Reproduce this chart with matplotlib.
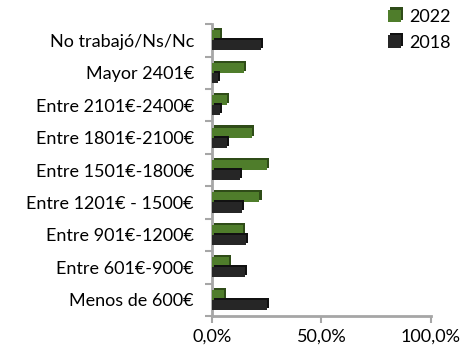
import matplotlib
matplotlib.use('Agg')
import matplotlib.pyplot as plt
import matplotlib.patheffects as pe
import numpy as np

categories = ['Menos de 600€', 'Entre 601€-900€', 'Entre 901€-1200€',
              'Entre 1201€ - 1500€', 'Entre 1501€-1800€', 'Entre 1801€-2100€',
              'Entre 2101€-2400€', 'Mayor 2401€', 'No trabajó/Ns/Nc']
values_2022 = [5.5, 7.8, 14.0, 21.7, 25.0, 18.3, 6.8, 14.7, 3.7]
values_2018 = [25.2, 14.9, 15.5, 13.5, 12.9, 6.8, 3.5, 2.8, 22.4]
x_ticks = [0, 50, 100]
x_tick_labels = ['0,0%', '50,0%', '100,0%']

plt.rcParams['font.family'] = ['Lato', 'DejaVu Sans']

fig = plt.figure(figsize=(4.71, 3.55), dpi=100)
ax = fig.add_axes([0.450, 0.110, 0.465, 0.822])

y = np.arange(len(categories))
h = 0.31
green = '#4f7d2b'
dark = '#262626'

b1 = ax.barh(y + h / 2, values_2022, height=h, color=green, label='2022', zorder=3)
b2 = ax.barh(y - h / 2, values_2018, height=h, color=dark, label='2018', zorder=3)
# fake depth: darker offset copy behind each bar
for bar in b1:
    bar.set_path_effects([pe.SimplePatchShadow(offset=(1.5, 1.5), shadow_rgbFace='#2f4c18', alpha=1), pe.Normal()])
for bar in b2:
    bar.set_path_effects([pe.SimplePatchShadow(offset=(1.5, 1.5), shadow_rgbFace='#111111', alpha=1), pe.Normal()])

ax.set_xlim(0, 100)
ax.set_ylim(-0.5, len(categories) - 0.5)
ax.set_xticks(x_ticks)
ax.set_xticklabels(x_tick_labels, fontsize=13)
ax.set_yticks(y)
ax.set_yticklabels(categories, fontsize=13)
ax.set_yticks(np.arange(len(categories) + 1) - 0.5, minor=True)
ax.tick_params(axis='y', which='major', length=0, pad=13)
ax.tick_params(axis='y', which='minor', length=5, width=1.5, color='#a6a6a6')
ax.tick_params(axis='x', length=5, width=1.5, color='#a6a6a6', pad=4)

for s in ['top', 'right']:
    ax.spines[s].set_visible(False)
for s in ['left', 'bottom']:
    ax.spines[s].set_color('#a6a6a6')
    ax.spines[s].set_linewidth(2)

leg = ax.legend(loc='upper left', frameon=False,
                fontsize=13, handlelength=0.7, handleheight=0.7, handletextpad=0.45,
                labelspacing=0.55)
leg.set_bbox_to_anchor((0.79, 1.02), transform=fig.transFigure)

fig.savefig('out.png', dpi=100)
